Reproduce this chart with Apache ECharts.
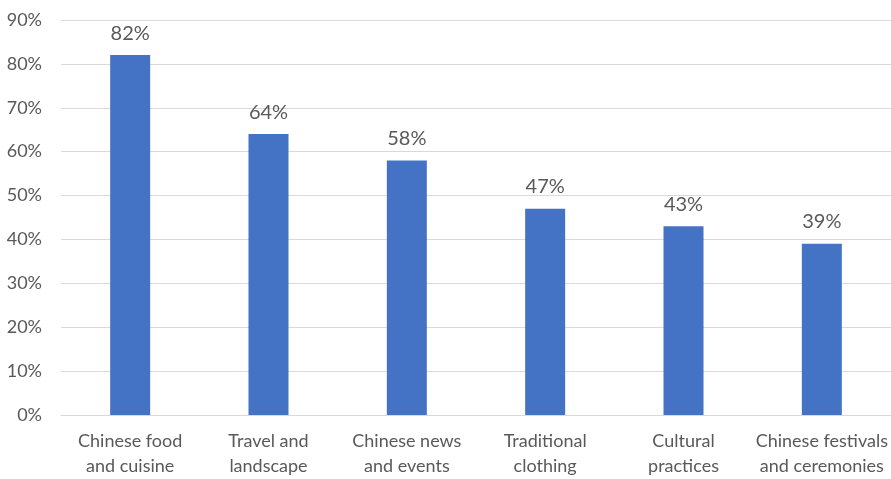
<!DOCTYPE html>
<html>
<head>
<meta charset="utf-8">
<script src="https://cdn.jsdelivr.net/npm/echarts@6/dist/echarts.min.js"></script>
<style>
  html, body { margin: 0; padding: 0; background: #fff; }
  #chart { width: 891px; height: 479px; }
</style>
</head>
<body>
<div id="chart"></div>
<script>
// Share of respondents interested in each topic (percent)
const categories = [
  'Chinese food\nand cuisine',
  'Travel and\nlandscape',
  'Chinese news\nand events',
  'Traditional\nclothing',
  'Cultural\npractices',
  'Chinese festivals\nand ceremonies'
];
const values = [82, 64, 58, 47, 43, 39];

const textColor = '#595959';
const fontFamily = 'Lato, "Open Sans", sans-serif';

const chart = echarts.init(document.getElementById('chart'));
chart.setOption({
  animation: false,
  grid: { left: 61, right: -1, top: 20, bottom: 61, containLabel: false },
  xAxis: {
    type: 'category',
    data: categories,
    axisLine: { lineStyle: { color: '#d9d9d9', width: 1 } },
    axisTick: { show: false },
    axisLabel: {
      color: textColor, fontFamily, fontSize: 18, lineHeight: 25,
      margin: 14, interval: 0
    }
  },
  yAxis: {
    type: 'value',
    min: 0, max: 90, interval: 10,
    axisLine: { show: false },
    axisTick: { show: false },
    splitLine: { lineStyle: { color: '#d9d9d9', width: 1 } },
    axisLabel: {
      color: textColor, fontFamily, fontSize: 18, margin: 19,
      formatter: v => v + '%'
    }
  },
  series: [{
    type: 'bar',
    data: values,
    barWidth: 40,
    itemStyle: { color: '#4472C4' },
    label: {
      show: true, position: 'top', distance: 12,
      color: textColor, fontFamily, fontSize: 20,
      formatter: p => p.value + '%'
    }
  }]
});
</script>
</body>
</html>
